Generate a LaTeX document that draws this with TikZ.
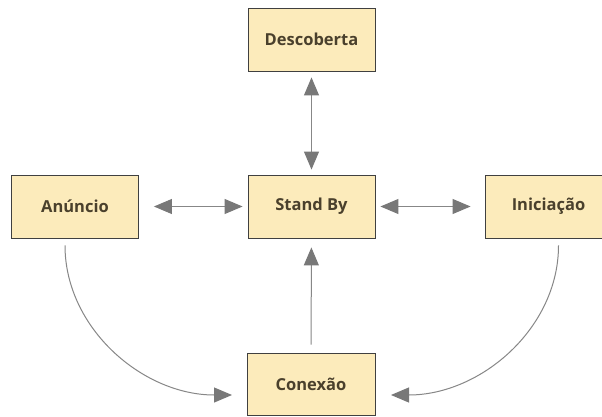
\documentclass[tikz,border=0pt]{standalone}
\usepackage{fontspec}
\setmainfont{Open Sans}
\usetikzlibrary{arrows.meta}
\definecolor{boxfill}{RGB}{252,235,187}
\definecolor{boxtext}{RGB}{74,64,44}
\definecolor{linkgray}{RGB}{135,135,135}
\definecolor{tipgray}{RGB}{120,120,120}
\begin{document}
\begin{tikzpicture}[x=1pt, y=1pt,
  state/.style={draw=black!75, line width=0.9pt, fill=boxfill, text=boxtext,
    minimum width=127pt, minimum height=63pt, inner sep=0pt,
    font=\bfseries\fontsize{16.5}{19}\selectfont},
  link/.style={draw=linkgray, line width=1pt,
    arrows={-Triangle[length=18pt, width=15pt, color=tipgray]}},
  dlink/.style={link, arrows={Triangle[length=18pt, width=15pt, color=tipgray]-Triangle[length=18pt, width=15pt, color=tipgray]}}]
  \useasboundingbox (0,0) rectangle (602,416);
  \fill[white] (0,0) rectangle (602,416);

  \node (descoberta) [state] at (311.5,376.5) {Descoberta};
  \node (standby)    [state] at (311.5,209.5) {Stand By};
  \node (anuncio)    [state] at (75,209.5)    {Anúncio};
  \node (iniciacao)  [state] at (548.5,209.5) {Iniciação};
  \node (conexao)    [state, minimum width=128pt, minimum height=62pt] at (311,32) {Conexão};

  % ligacoes retas
  \draw [dlink, shorten <=6pt, shorten >=5pt] (descoberta) -- (standby);
  \draw [dlink, shorten <=15pt, shorten >=5pt] (anuncio) -- (standby);
  \draw [dlink, shorten <=5pt, shorten >=14pt] (standby) -- (iniciacao);
  \draw [link, shorten <=8pt, shorten >=9pt] (conexao) -- (standby);

  % curvas para a conexao
  \coordinate (conexao_l) at (232,21);
  \coordinate (conexao_r) at (391,21);
  \draw [link, shorten <=7pt] ([xshift=-10pt]anuncio.south) to[out=-90, in=180] (conexao_l);
  \draw [link, shorten <=7pt] ([xshift=10pt]iniciacao.south) to[out=-90, in=0] (conexao_r);
\end{tikzpicture}
\end{document}
